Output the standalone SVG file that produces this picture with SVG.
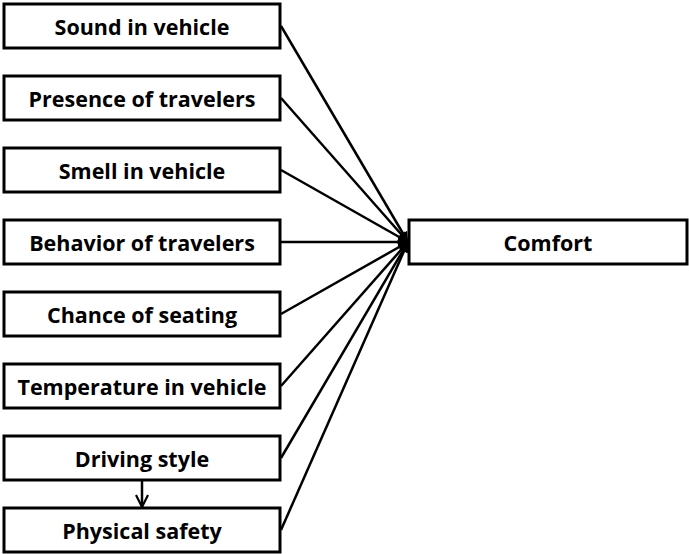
<svg xmlns="http://www.w3.org/2000/svg" width="689" height="554" viewBox="0 0 689 554">
  <style>
    .box { fill: #ffffff; stroke: #000000; stroke-width: 3; }
    .lbl { font-family: "Open Sans", "Noto Sans", sans-serif; font-weight: bold; font-size: 21.5px; fill: #000000; text-anchor: middle; dominant-baseline: central; }
    .edge { stroke: #000000; stroke-width: 2.5; fill: none; }
  </style>
  <defs>
    <marker id="head" viewBox="0 0 10 10" refX="10" refY="5" markerWidth="12" markerHeight="10" markerUnits="userSpaceOnUse" orient="auto">
      <path d="M0,0 L10,5 L0,10 Z" fill="#000000"/>
    </marker>
    <marker id="vee" viewBox="0 0 14 14" refX="13" refY="7" markerWidth="14" markerHeight="14" markerUnits="userSpaceOnUse" orient="auto">
      <path d="M1,1 L13,7 L1,13" fill="none" stroke="#000000" stroke-width="2.2"/>
    </marker>
  </defs>

  <g id="connectors">
    <line class="edge" x1="281" y1="26" x2="408" y2="242" marker-end="url(#head)"/>
    <line class="edge" x1="281" y1="98" x2="408" y2="242" marker-end="url(#head)"/>
    <line class="edge" x1="281" y1="170" x2="408" y2="242" marker-end="url(#head)"/>
    <line class="edge" x1="281" y1="242" x2="408" y2="242" marker-end="url(#head)"/>
    <line class="edge" x1="281" y1="314" x2="408" y2="242" marker-end="url(#head)"/>
    <line class="edge" x1="281" y1="386" x2="408" y2="242" marker-end="url(#head)"/>
    <line class="edge" x1="281" y1="458" x2="408" y2="242" marker-end="url(#head)"/>
    <line class="edge" x1="281" y1="530" x2="408" y2="242" marker-end="url(#head)"/>
    <line class="edge" x1="142" y1="480" x2="142" y2="507" marker-end="url(#vee)"/>
  </g>

  <g id="sound">
    <rect class="box" x="4" y="4" width="276" height="44"/>
    <text class="lbl" x="142" y="26">Sound in vehicle</text>
  </g>
  <g id="presence">
    <rect class="box" x="4" y="76" width="276" height="44"/>
    <text class="lbl" x="142" y="98">Presence of travelers</text>
  </g>
  <g id="smell">
    <rect class="box" x="4" y="148" width="276" height="44"/>
    <text class="lbl" x="142" y="170">Smell in vehicle</text>
  </g>
  <g id="behavior">
    <rect class="box" x="4" y="220" width="276" height="44"/>
    <text class="lbl" x="142" y="242">Behavior of travelers</text>
  </g>
  <g id="seating">
    <rect class="box" x="4" y="292" width="276" height="44"/>
    <text class="lbl" x="142" y="314">Chance of seating</text>
  </g>
  <g id="temperature">
    <rect class="box" x="4" y="364" width="276" height="44"/>
    <text class="lbl" x="142" y="386">Temperature in vehicle</text>
  </g>
  <g id="driving">
    <rect class="box" x="4" y="436" width="276" height="44"/>
    <text class="lbl" x="142" y="458">Driving style</text>
  </g>
  <g id="safety">
    <rect class="box" x="4" y="508" width="276" height="44"/>
    <text class="lbl" x="142" y="530">Physical safety</text>
  </g>
  <g id="comfort">
    <rect class="box" x="409" y="220" width="278" height="44"/>
    <text class="lbl" x="548" y="242">Comfort</text>
  </g>
</svg>
